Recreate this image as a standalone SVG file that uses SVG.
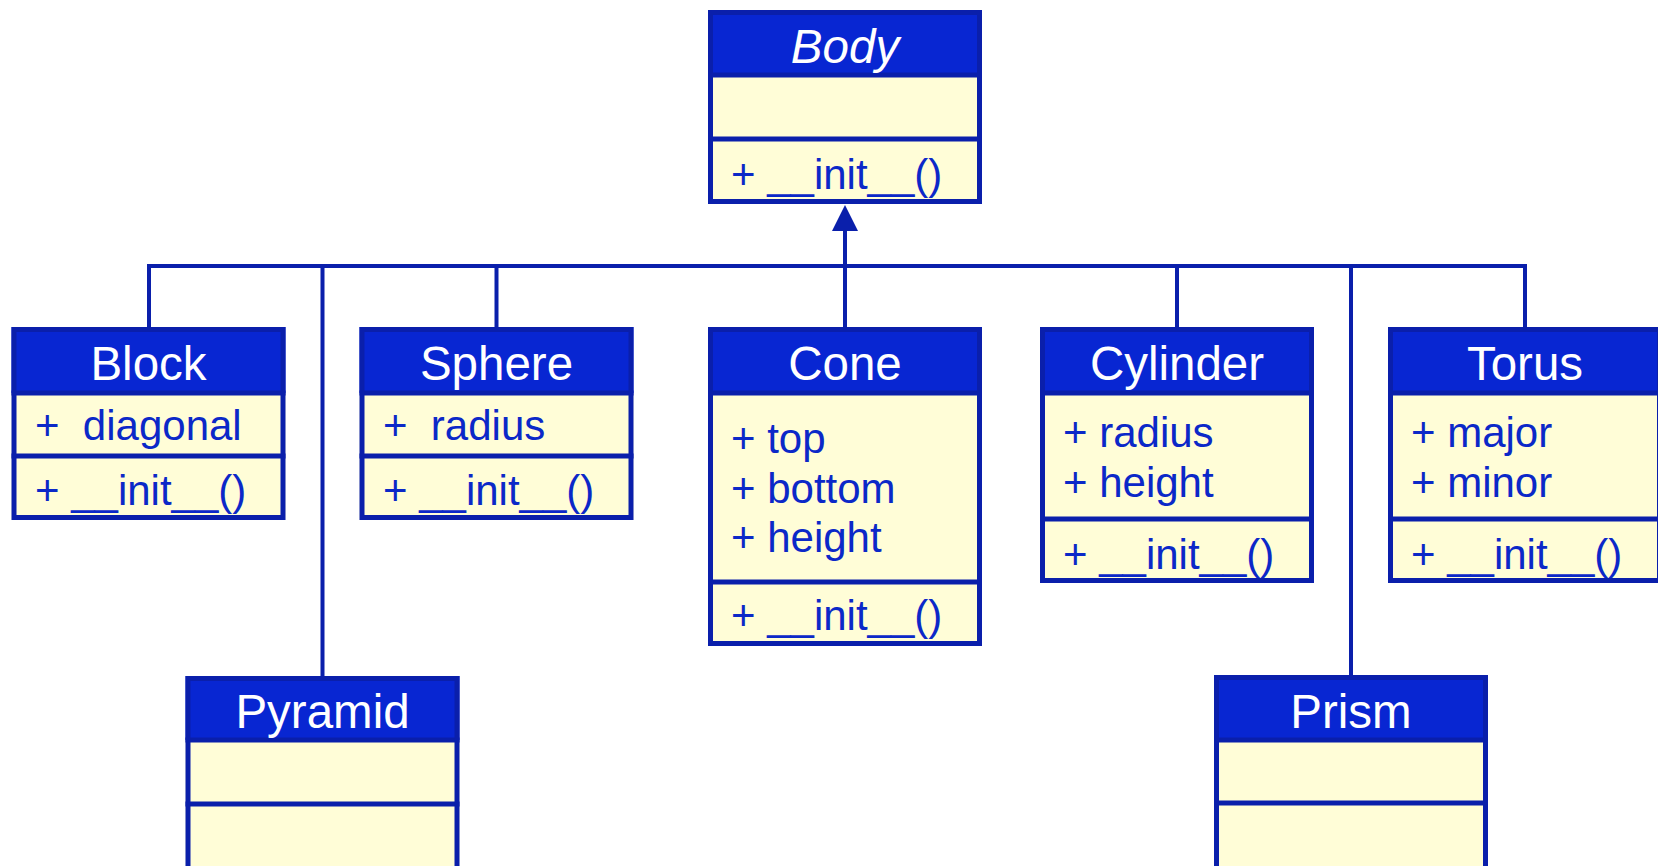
<svg xmlns="http://www.w3.org/2000/svg" width="1658" height="866" viewBox="0 0 1658 866">
  <style>
    .head { fill: #0826d2; }
    .comp { fill: #fffdd7; }
    .frame { fill: none; stroke: #0a1fab; stroke-width: 5; }
    .div { stroke: #0a1fab; stroke-width: 5; }
    .title { font-family: "Liberation Sans", Arial, sans-serif; font-size: 47.5px; fill: #ffffff; text-anchor: middle; }
    .member { font-family: "Liberation Sans", Arial, sans-serif; font-size: 42px; fill: #0b28c8; white-space: pre; }
    .link { stroke: #0a1fab; stroke-width: 4; fill: none; }
  </style>

  <!-- inheritance connectors -->
  <g id="connectors">
    <polyline class="link" points="149,327 149,266 1525,266 1525,327"/>
    <line class="link" x1="322.5" y1="266" x2="322.5" y2="676"/>
    <line class="link" x1="496.5" y1="266" x2="496.5" y2="327"/>
    <line class="link" x1="845" y1="229" x2="845" y2="327"/>
    <line class="link" x1="1177" y1="266" x2="1177" y2="327"/>
    <line class="link" x1="1351" y1="266" x2="1351" y2="675"/>
    <polygon points="845,205 858,231 832,231" fill="#0a1fab"/>
  </g>

  <!-- Body -->
  <g id="body">
    <rect class="head" x="708" y="10" width="274" height="65"/>
    <rect class="comp" x="708" y="75" width="274" height="129"/>
    <line class="div" x1="708" y1="75" x2="982" y2="75"/>
    <line class="div" x1="708" y1="139" x2="982" y2="139"/>
    <rect class="frame" x="710.5" y="12.5" width="269" height="189"/>
    <text class="title" x="845" y="63" font-style="italic">Body</text>
    <text class="member" x="731" y="189" xml:space="preserve">+ __init__()</text>
  </g>

  <!-- Block -->
  <g id="block">
    <rect class="head" x="11.5" y="327" width="274" height="66"/>
    <rect class="comp" x="11.5" y="393" width="274" height="127"/>
    <line class="div" x1="11.5" y1="393" x2="285.5" y2="393"/>
    <line class="div" x1="11.5" y1="456" x2="285.5" y2="456"/>
    <rect class="frame" x="14" y="329.5" width="269" height="188"/>
    <text class="title" x="148.5" y="380">Block</text>
    <text class="member" x="35" y="440" xml:space="preserve">+  diagonal</text>
    <text class="member" x="35" y="505" xml:space="preserve">+ __init__()</text>
  </g>

  <!-- Sphere -->
  <g id="sphere">
    <rect class="head" x="359.5" y="327" width="274" height="66"/>
    <rect class="comp" x="359.5" y="393" width="274" height="127"/>
    <line class="div" x1="359.5" y1="393" x2="633.5" y2="393"/>
    <line class="div" x1="359.5" y1="456" x2="633.5" y2="456"/>
    <rect class="frame" x="362" y="329.5" width="269" height="188"/>
    <text class="title" x="496.5" y="380">Sphere</text>
    <text class="member" x="383" y="440" xml:space="preserve">+  radius</text>
    <text class="member" x="383" y="505" xml:space="preserve">+ __init__()</text>
  </g>

  <!-- Cone -->
  <g id="cone">
    <rect class="head" x="708" y="327" width="274" height="66"/>
    <rect class="comp" x="708" y="393" width="274" height="253"/>
    <line class="div" x1="708" y1="393" x2="982" y2="393"/>
    <line class="div" x1="708" y1="582" x2="982" y2="582"/>
    <rect class="frame" x="710.5" y="329.5" width="269" height="314"/>
    <text class="title" x="845" y="380">Cone</text>
    <text class="member" x="731" y="453" xml:space="preserve">+ top</text>
    <text class="member" x="731" y="503" xml:space="preserve">+ bottom</text>
    <text class="member" x="731" y="552" xml:space="preserve">+ height</text>
    <text class="member" x="731" y="630" xml:space="preserve">+ __init__()</text>
  </g>

  <!-- Cylinder -->
  <g id="cylinder">
    <rect class="head" x="1040" y="327" width="274" height="66"/>
    <rect class="comp" x="1040" y="393" width="274" height="190"/>
    <line class="div" x1="1040" y1="393" x2="1314" y2="393"/>
    <line class="div" x1="1040" y1="519" x2="1314" y2="519"/>
    <rect class="frame" x="1042.5" y="329.5" width="269" height="251"/>
    <text class="title" x="1177" y="380">Cylinder</text>
    <text class="member" x="1063" y="447" xml:space="preserve">+ radius</text>
    <text class="member" x="1063" y="497" xml:space="preserve">+ height</text>
    <text class="member" x="1063" y="569" xml:space="preserve">+ __init__()</text>
  </g>

  <!-- Torus -->
  <g id="torus">
    <rect class="head" x="1388" y="327" width="274" height="66"/>
    <rect class="comp" x="1388" y="393" width="274" height="190"/>
    <line class="div" x1="1388" y1="393" x2="1662" y2="393"/>
    <line class="div" x1="1388" y1="519" x2="1662" y2="519"/>
    <rect class="frame" x="1390.5" y="329.5" width="269" height="251"/>
    <text class="title" x="1525" y="380">Torus</text>
    <text class="member" x="1411" y="447" xml:space="preserve">+ major</text>
    <text class="member" x="1411" y="497" xml:space="preserve">+ minor</text>
    <text class="member" x="1411" y="569" xml:space="preserve">+ __init__()</text>
  </g>

  <!-- Pyramid -->
  <g id="pyramid">
    <rect class="head" x="185.5" y="676" width="274" height="64"/>
    <rect class="comp" x="185.5" y="740" width="274" height="140"/>
    <line class="div" x1="185.5" y1="740" x2="459.5" y2="740"/>
    <line class="div" x1="185.5" y1="804" x2="459.5" y2="804"/>
    <rect class="frame" x="188" y="678.5" width="269" height="196"/>
    <text class="title" x="322.5" y="728">Pyramid</text>
  </g>

  <!-- Prism -->
  <g id="prism">
    <rect class="head" x="1214" y="675" width="274" height="65"/>
    <rect class="comp" x="1214" y="740" width="274" height="140"/>
    <line class="div" x1="1214" y1="740" x2="1488" y2="740"/>
    <line class="div" x1="1214" y1="803" x2="1488" y2="803"/>
    <rect class="frame" x="1216.5" y="677.5" width="269" height="197"/>
    <text class="title" x="1351" y="728">Prism</text>
  </g>
</svg>
